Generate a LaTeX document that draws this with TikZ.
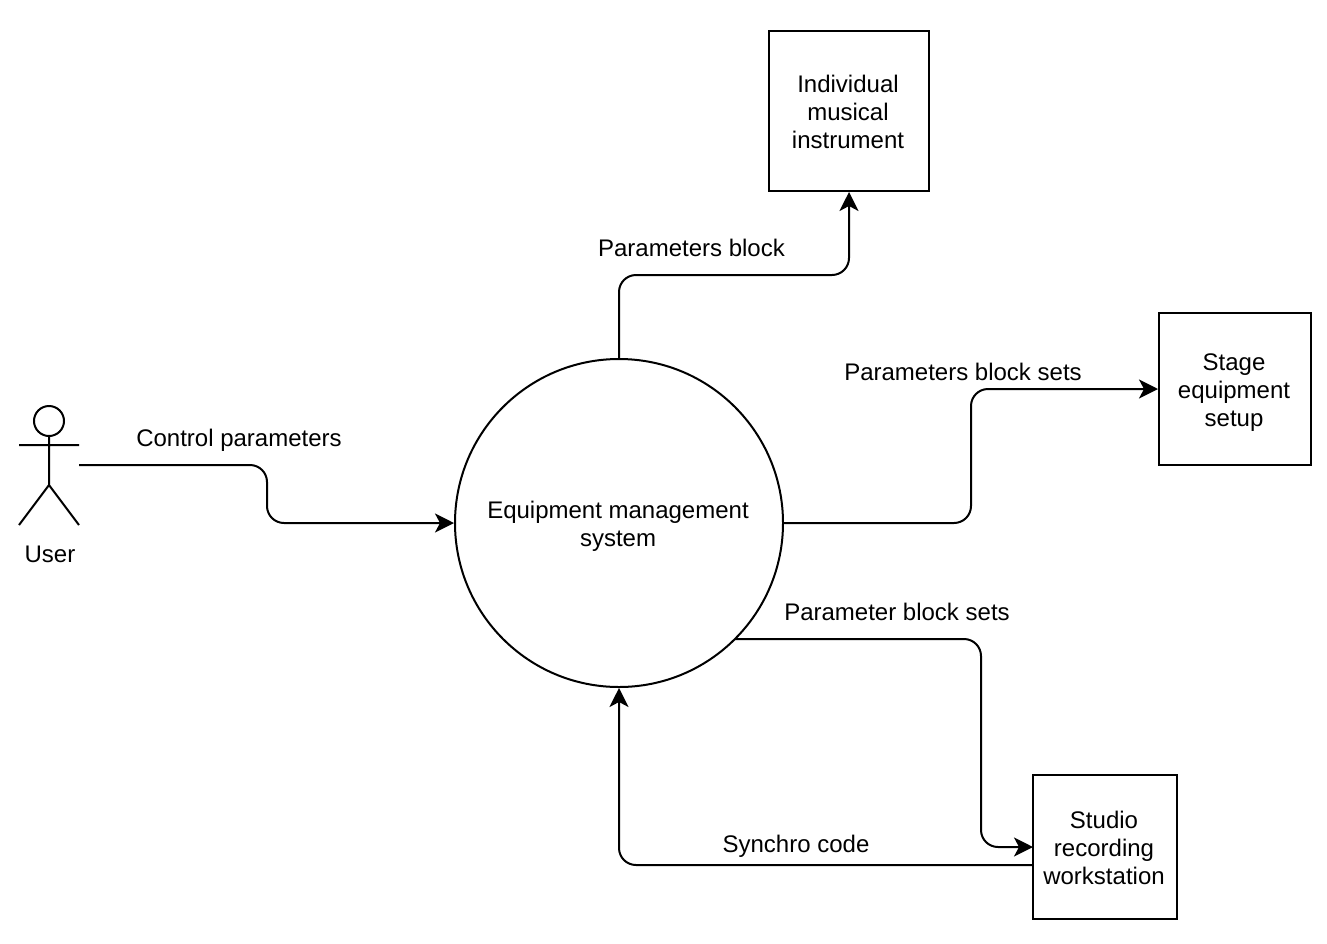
\documentclass[tikz,border=0pt]{standalone}
\usepackage{fontspec}
\setmainfont{Liberation Sans}
\usetikzlibrary{arrows.meta}
\tikzset{
  diagram/.style={x=1pt,y=-1pt,line width=2pt,line join=miter},
  box/.style={draw,line width=2pt,minimum width=#1,minimum height=#1,anchor=center,inner sep=0pt},
  lbl/.style={inner sep=0pt,align=center,font=\fontsize{24}{28}\selectfont},
  flow/.style={draw,line width=2pt,rounded corners=17pt,-{Stealth[length=19pt,width=19pt,inset=5pt]}},
}
\begin{document}
\begin{tikzpicture}[diagram]
\useasboundingbox (0,0) rectangle (1327,943);
\node[box=160pt] (inst) at (849,111) {};
\node[lbl] (insttext) at (848,112) {Individual\\musical\\instrument};
\node[box=152pt] (stage) at (1235,389) {};
\node[lbl] (stagetext) at (1234,393) {Stage\\equipment\\setup};
\node[box=144pt] (studio) at (1105,847) {};
\node[lbl] (studiotext) at (1104,848) {Studio\\recording\\workstation};
\node[draw,circle,line width=2pt,minimum size=328pt,inner sep=0pt] (sys) at (619,523) {};
\node[lbl] (systext) at (618,526.5) {Equipment management\\system};
% actor
\draw[line width=2pt] (49,421) circle (15);
\coordinate (neck) at (49,436);
\coordinate (hip) at (49,485);
\coordinate (armL) at (19,445);
\coordinate (armR) at (79,445);
\coordinate (footL) at (19,525);
\coordinate (footR) at (79,525);
\draw (neck) -- (hip) (armL) -- (armR) (footL) -- (hip) -- (footR);
\coordinate (actor) at (79,465);
\node[lbl] (user) at (50,554) {User};
% connectors
\path[flow] (actor) -- (267,465) -- (267,523) -- (sys.west);
\path[flow] (sys.north) -- (619,275) -- (849,275) -- (inst.south);
\path[flow] (sys.east) -- (971,523) -- (971,389) -- (stage.west);
\coordinate (sysout) at (735,639);
\coordinate (studioin) at (1033,847);
\coordinate (studioout) at (1033,865);
\path[flow] (sysout) -- (981,639) -- (981,847) -- (studioin);
\path[flow] (studioout) -- (619,865) -- (sys.south);
% labels
\node[lbl] (l1) at (239,440) {Control parameters};
\node[lbl] (l2) at (691.5,248) {Parameters block};
\node[lbl] (l3) at (963,372) {Parameters block sets};
\node[lbl] (l4) at (897,612) {Parameter block sets};
\node[lbl] (l5) at (796,846) {Synchro code};
\end{tikzpicture}
\end{document}
